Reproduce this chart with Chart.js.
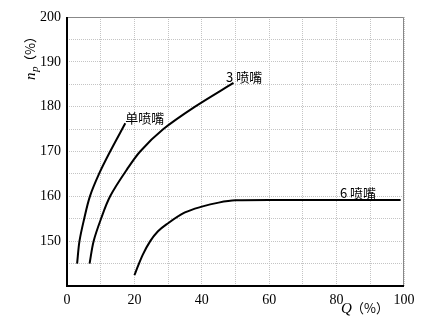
<!DOCTYPE html>
<html>
<head>
<meta charset="utf-8">
<script src="https://cdn.jsdelivr.net/npm/chart.js@4.4.0/dist/chart.umd.min.js"></script>
<style>
  html, body { margin: 0; padding: 0; background: #fff; }
</style>
</head>
<body>
<canvas id="nozzleChart" width="427" height="318"></canvas>
<script>
const CHART = document.getElementById('nozzleChart')

// values: Q (%) against n_p (%)
const singleQ = [3.0, 3.7, 5.1, 6.8, 9.5, 12.8, 17.3]
const singleNp = [145, 150, 155, 160, 165, 170, 176.3]

const threeQ = [6.7, 7.9, 10.1, 12.8, 17.8, 21.7, 28.6, 38.0, 49.4]
const threeNp = [145, 150, 155, 160, 166, 170, 175, 180, 185.3]

const sixQ = [20.0, 21.2, 22.5, 24.7, 27.0, 30.0, 35.0, 40.0, 45.0, 50.0, 60.0, 80.0, 99.0]
const sixNp = [142.4, 144.7, 147, 150, 152.2, 154, 156.4, 157.7, 158.6, 159.1, 159.2, 159.2, 159.2]

const curveLabels = [
    { text: '单喷嘴', q: 17.3, np: 176.4 },
    { text: '3 喷嘴', q: 47.2, np: 185.6 },
    { text: '6 喷嘴', q: 81.0, np: 159.6 }
]

const toPoints = (xs, ys) => xs.map((x, i) => ({ x: x, y: ys[i] }))

const lineStyle = {
    borderColor: '#000',
    borderWidth: 2,
    pointRadius: 0,
    fill: false,
    cubicInterpolationMode: 'monotone'
}

// frame, axis titles and the curve labels
const extras = {
    id: 'extras',
    beforeDatasetsDraw(chart) {
        const { ctx, chartArea: a } = chart
        ctx.save()
        ctx.strokeStyle = '#888'
        ctx.lineWidth = 1
        ctx.beginPath()
        ctx.moveTo(a.left, a.top + 0.5)
        ctx.lineTo(a.right - 0.5, a.top + 0.5)
        ctx.lineTo(a.right - 0.5, a.bottom)
        ctx.stroke()
        ctx.strokeStyle = '#000'
        ctx.lineWidth = 2
        ctx.beginPath()
        ctx.moveTo(a.left, a.top)
        ctx.lineTo(a.left, a.bottom)
        ctx.lineTo(a.right, a.bottom)
        ctx.stroke()
        ctx.restore()
    },
    afterDatasetsDraw(chart) {
        const { ctx } = chart
        const xs = chart.scales.x, ys = chart.scales.y
        ctx.save()
        ctx.fillStyle = '#000'
        ctx.textBaseline = 'alphabetic'
        ctx.font = '13px "Noto Sans CJK SC"'
        curveLabels.forEach(l => {
            ctx.textAlign = 'left'
            ctx.fillText(l.text, xs.getPixelForValue(l.q), ys.getPixelForValue(l.np))
        })

        // x title: Q(%)
        ctx.textAlign = 'left'
        ctx.font = 'italic 15px "Liberation Serif"'
        ctx.fillText('Q', 341, 313)
        ctx.font = '13px "Noto Sans CJK SC"'
        ctx.fillText('（%）', 351, 313)

        // y title: n_p(%) turned upward
        ctx.translate(35, 80)
        ctx.rotate(-Math.PI / 2)
        ctx.font = 'italic 15px "Liberation Serif"'
        ctx.fillText('n', 0, 0)
        ctx.font = 'italic 11px "Liberation Serif"'
        ctx.fillText('p', 8, 3)
        ctx.font = '13px "Noto Sans CJK SC"'
        ctx.fillText('（%）', 12, 0)
        ctx.restore()
    }
}

const gridStyle = {
    color: '#c4c4c4',
    lineWidth: 1,
    drawTicks: false
}

let nozzleChart = new Chart(CHART, {
    type: 'line',
    data: {
        datasets: [
            // steep curves: smooth them along the n_p axis
            Object.assign({ label: '单喷嘴', indexAxis: 'y', data: toPoints(singleQ, singleNp) }, lineStyle),
            Object.assign({ label: '3 喷嘴', indexAxis: 'y', data: toPoints(threeQ, threeNp) }, lineStyle),
            Object.assign({ label: '6 喷嘴', indexAxis: 'x', data: toPoints(sixQ, sixNp) }, lineStyle)
        ]
    },
    options: {
        responsive: false,
        animation: false,
        layout: { padding: { left: 0, right: 23, top: 17, bottom: 0 } },
        plugins: {
            legend: { display: false },
            tooltip: { enabled: false }
        },
        scales: {
            x: {
                type: 'linear',
                min: 0,
                max: 100,
                border: { display: false, dash: [1, 1] },
                grid: gridStyle,
                ticks: {
                    stepSize: 10,
                    color: '#000',
                    padding: 6,
                    maxRotation: 0,
                    font: { family: '"Liberation Serif"', size: 14 },
                    callback: v => (v % 20 === 0 ? String(v) : '')
                },
                afterFit(scale) { scale.height = 32 }
            },
            y: {
                type: 'linear',
                min: 140,
                max: 200,
                border: { display: false, dash: [1, 1] },
                grid: gridStyle,
                ticks: {
                    stepSize: 5,
                    color: '#000',
                    padding: 6,
                    font: { family: '"Liberation Serif"', size: 14 },
                    callback: v => (v % 10 === 0 && v > 140 ? String(v) : '')
                },
                afterFit(scale) { scale.width = 67 }
            }
        }
    },
    plugins: [extras]
})
</script>
</body>
</html>
